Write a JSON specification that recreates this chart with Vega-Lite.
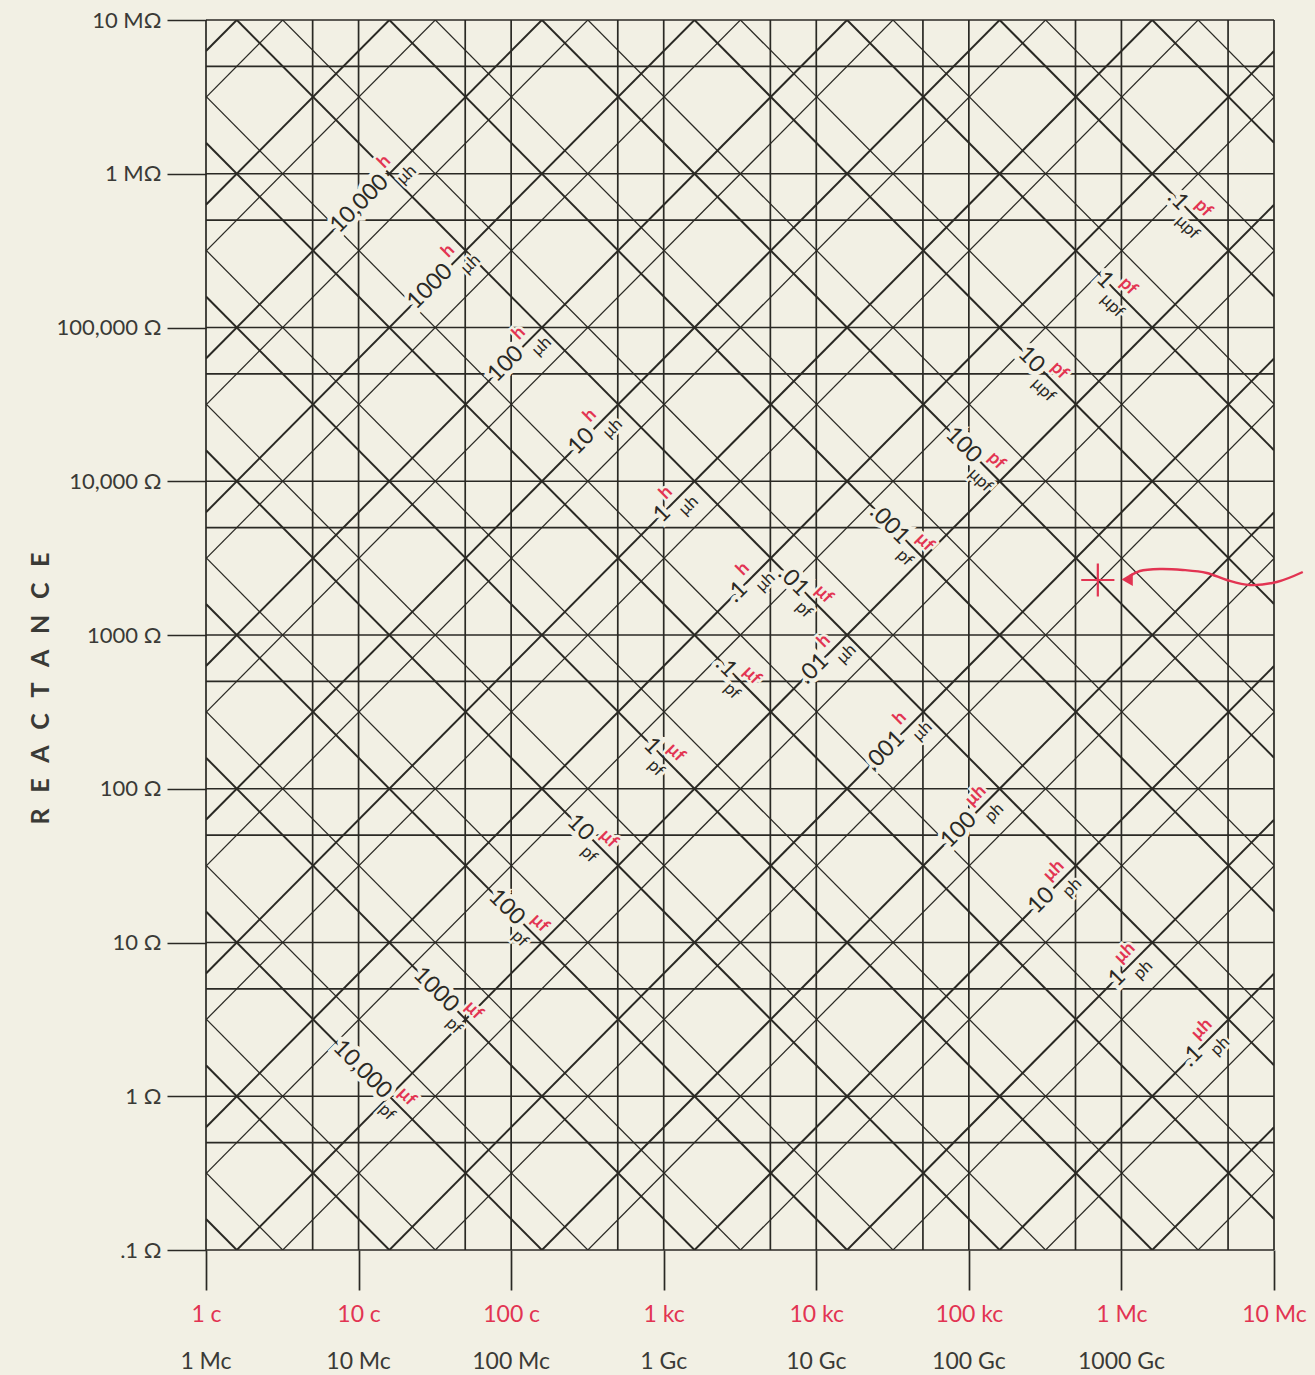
{
  "$schema": "https://vega.github.io/schema/vega-lite/v6.json",
  "width": 1068,
  "height": 1230,
  "autosize": {"type": "none"},
  "padding": {"left": 206, "top": 20, "right": 41, "bottom": 125},
  "background": "#f2f0e4",
  "config": {"view": {"stroke": null}, "font": "Lato"},
  "datasets": {
    "vg": [{"f":1},{"f":5},{"f":10},{"f":50},{"f":100},{"f":500},{"f":1000},{"f":5000},{"f":10000},{"f":50000},{"f":100000},{"f":500000},{"f":1000000},{"f":5000000},{"f":10000000}],
    "hg": [{"X":0.1},{"X":0.5},{"X":1},{"X":5},{"X":10},{"X":50},{"X":100},{"X":500},{"X":1000},{"X":5000},{"X":10000},{"X":50000},{"X":100000},{"X":500000},{"X":1000000},{"X":5000000},{"X":10000000}],
    "diag": [
      {"fam":"L","m":"a","f1":1,"X1":6283200,"f2":10000000,"X2":62832000000000},
      {"fam":"L","m":"b","f1":1,"X1":3141600,"f2":10000000,"X2":31416000000000},
      {"fam":"L","m":"a","f1":1,"X1":628320,"f2":10000000,"X2":6283200000000},
      {"fam":"L","m":"b","f1":1,"X1":314160,"f2":10000000,"X2":3141600000000},
      {"fam":"L","m":"a","f1":1,"X1":62832,"f2":10000000,"X2":628320000000},
      {"fam":"L","m":"b","f1":1,"X1":31416,"f2":10000000,"X2":314160000000},
      {"fam":"L","m":"a","f1":1,"X1":6283.2,"f2":10000000,"X2":62832000000},
      {"fam":"L","m":"b","f1":1,"X1":3141.6,"f2":10000000,"X2":31416000000},
      {"fam":"L","m":"a","f1":1,"X1":628.32,"f2":10000000,"X2":6283200000},
      {"fam":"L","m":"b","f1":1,"X1":314.16,"f2":10000000,"X2":3141600000},
      {"fam":"L","m":"a","f1":1,"X1":62.832,"f2":10000000,"X2":628320000},
      {"fam":"L","m":"b","f1":1,"X1":31.416,"f2":10000000,"X2":314160000},
      {"fam":"L","m":"a","f1":1,"X1":6.2832,"f2":10000000,"X2":62832000},
      {"fam":"L","m":"b","f1":1,"X1":3.1416,"f2":10000000,"X2":31416000},
      {"fam":"L","m":"a","f1":1,"X1":0.62832,"f2":10000000,"X2":6283200},
      {"fam":"L","m":"b","f1":1,"X1":0.31416,"f2":10000000,"X2":3141600},
      {"fam":"L","m":"a","f1":1,"X1":0.062832,"f2":10000000,"X2":628320},
      {"fam":"L","m":"b","f1":1,"X1":0.031416,"f2":10000000,"X2":314160},
      {"fam":"L","m":"a","f1":1,"X1":0.0062832,"f2":10000000,"X2":62832},
      {"fam":"L","m":"b","f1":1,"X1":0.0031416,"f2":10000000,"X2":31416},
      {"fam":"L","m":"a","f1":1,"X1":0.00062832,"f2":10000000,"X2":6283.2},
      {"fam":"L","m":"b","f1":1,"X1":0.00031416,"f2":10000000,"X2":3141.6},
      {"fam":"L","m":"a","f1":1,"X1":0.000062832,"f2":10000000,"X2":628.32},
      {"fam":"L","m":"b","f1":1,"X1":0.000031416,"f2":10000000,"X2":314.16},
      {"fam":"L","m":"a","f1":1,"X1":0.0000062832,"f2":10000000,"X2":62.832},
      {"fam":"L","m":"b","f1":1,"X1":0.0000031416,"f2":10000000,"X2":31.416},
      {"fam":"L","m":"a","f1":1,"X1":6.2832e-7,"f2":10000000,"X2":6.2832},
      {"fam":"L","m":"b","f1":1,"X1":3.1416e-7,"f2":10000000,"X2":3.1416},
      {"fam":"L","m":"a","f1":1,"X1":6.2832e-8,"f2":10000000,"X2":0.62832},
      {"fam":"L","m":"b","f1":1,"X1":3.1416e-8,"f2":10000000,"X2":0.31416},
      {"fam":"C","m":"a","f1":1,"X1":0.159155,"f2":10000000,"X2":1.59155e-8},
      {"fam":"C","m":"b","f1":1,"X1":0.31831,"f2":10000000,"X2":3.1831e-8},
      {"fam":"C","m":"a","f1":1,"X1":1.59155,"f2":10000000,"X2":1.59155e-7},
      {"fam":"C","m":"b","f1":1,"X1":3.1831,"f2":10000000,"X2":3.1831e-7},
      {"fam":"C","m":"a","f1":1,"X1":15.9155,"f2":10000000,"X2":0.00000159155},
      {"fam":"C","m":"b","f1":1,"X1":31.831,"f2":10000000,"X2":0.0000031831},
      {"fam":"C","m":"a","f1":1,"X1":159.155,"f2":10000000,"X2":0.0000159155},
      {"fam":"C","m":"b","f1":1,"X1":318.31,"f2":10000000,"X2":0.000031831},
      {"fam":"C","m":"a","f1":1,"X1":1591.55,"f2":10000000,"X2":0.000159155},
      {"fam":"C","m":"b","f1":1,"X1":3183.1,"f2":10000000,"X2":0.00031831},
      {"fam":"C","m":"a","f1":1,"X1":15915.5,"f2":10000000,"X2":0.00159155},
      {"fam":"C","m":"b","f1":1,"X1":31831,"f2":10000000,"X2":0.0031831},
      {"fam":"C","m":"a","f1":1,"X1":159155,"f2":10000000,"X2":0.0159155},
      {"fam":"C","m":"b","f1":1,"X1":318310,"f2":10000000,"X2":0.031831},
      {"fam":"C","m":"a","f1":1,"X1":1591550,"f2":10000000,"X2":0.159155},
      {"fam":"C","m":"b","f1":1,"X1":3183100,"f2":10000000,"X2":0.31831},
      {"fam":"C","m":"a","f1":1,"X1":15915500,"f2":10000000,"X2":1.59155},
      {"fam":"C","m":"b","f1":1,"X1":31831000,"f2":10000000,"X2":3.1831},
      {"fam":"C","m":"a","f1":1,"X1":159155000,"f2":10000000,"X2":15.9155},
      {"fam":"C","m":"b","f1":1,"X1":318310000,"f2":10000000,"X2":31.831},
      {"fam":"C","m":"a","f1":1,"X1":1591550000,"f2":10000000,"X2":159.155},
      {"fam":"C","m":"b","f1":1,"X1":3183100000,"f2":10000000,"X2":318.31},
      {"fam":"C","m":"a","f1":1,"X1":15915500000,"f2":10000000,"X2":1591.55},
      {"fam":"C","m":"b","f1":1,"X1":31831000000,"f2":10000000,"X2":3183.1},
      {"fam":"C","m":"a","f1":1,"X1":159155000000,"f2":10000000,"X2":15915.5},
      {"fam":"C","m":"b","f1":1,"X1":318310000000,"f2":10000000,"X2":31831},
      {"fam":"C","m":"a","f1":1,"X1":1591550000000,"f2":10000000,"X2":159155},
      {"fam":"C","m":"b","f1":1,"X1":3183100000000,"f2":10000000,"X2":318310},
      {"fam":"C","m":"a","f1":1,"X1":15915500000000,"f2":10000000,"X2":1591550},
      {"fam":"C","m":"b","f1":1,"X1":31831000000000,"f2":10000000,"X2":3183100}
    ],
    "labL": [
      {"f":15.35,"X":964500,"num":"10,000","red":"h","blk":"μh"},
      {"f":40.32,"X":253300,"num":"1000","red":"h","blk":"μh"},
      {"f":117.7,"X":73950,"num":"100","red":"h","blk":"μh"},
      {"f":343.6,"X":21590,"num":"10","red":"h","blk":"μh"},
      {"f":1082,"X":6796,"num":"1","red":"h","blk":"μh"},
      {"f":3456,"X":2172,"num":".1","red":"h","blk":"μh"},
      {"f":11735,"X":737.5,"num":".01","red":"h","blk":"μh"},
      {"f":36940,"X":232.1,"num":".001","red":"h","blk":"μh"},
      {"f":109500,"X":68.79,"num":"100","red":"μh","blk":"ph"},
      {"f":355200,"X":22.32,"num":"10","red":"μh","blk":"ph"},
      {"f":1036900,"X":6.515,"num":"1","red":"μh","blk":"ph"},
      {"f":3314000,"X":2.082,"num":".1","red":"μh","blk":"ph"}
    ],
    "labC": [
      {"f":16.06,"X":0.9909,"num":"10,000","red":"μf","blk":"pf"},
      {"f":44.14,"X":3.606,"num":"1000","red":"μf","blk":"pf"},
      {"f":119.5,"X":13.32,"num":"100","red":"μf","blk":"pf"},
      {"f":338.4,"X":47.02,"num":"10","red":"μf","blk":"pf"},
      {"f":930,"X":171.1,"num":"1","red":"μf","blk":"pf"},
      {"f":2928,"X":543.6,"num":".1","red":"μf","blk":"pf"},
      {"f":8678,"X":1834,"num":".01","red":"μf","blk":"pf"},
      {"f":39830,"X":3996,"num":".001","red":"μf","blk":"pf"},
      {"f":118080,"X":13480,"num":"100","red":"pf","blk":"μpf"},
      {"f":305500,"X":52110,"num":"10","red":"pf","blk":"μpf"},
      {"f":865000,"X":183900,"num":"1","red":"pf","blk":"μpf"},
      {"f":2683000,"X":593400,"num":".1","red":"pf","blk":"μpf"}
    ],
    "bf": [
      {"f":1,"t":"1 Mc"},{"f":10,"t":"10 Mc"},{"f":100,"t":"100 Mc"},{"f":1000,"t":"1 Gc"},{"f":10000,"t":"10 Gc"},{"f":100000,"t":"100 Gc"},{"f":1000000,"t":"1000 Gc"}
    ],
    "pt": [{"f":700300,"X":2279}],
    "wave": [
      {"i":1,"f":15440000,"X":2569},
      {"i":2,"f":10430000,"X":2212},
      {"i":3,"f":6940000,"X":2115},
      {"i":4,"f":4907000,"X":2279},
      {"i":5,"f":3627000,"X":2531},
      {"i":6,"f":2526000,"X":2648},
      {"i":7,"f":1785000,"X":2688},
      {"i":8,"f":1320000,"X":2608},
      {"i":9,"f":1135000,"X":2420}
    ],
    "head": [{"f":1090000,"X":2300}]
  },
  "encoding": {
    "x": {"type": "quantitative", "scale": {"type": "log", "domain": [1, 10000000], "nice": false},
      "axis": {"values": [1,10,100,1000,10000,100000,1000000,10000000],
        "labelExpr": "datum.value < 5 ? '1 c' : datum.value < 50 ? '10 c' : datum.value < 500 ? '100 c' : datum.value < 5000 ? '1 kc' : datum.value < 50000 ? '10 kc' : datum.value < 500000 ? '100 kc' : datum.value < 5000000 ? '1 Mc' : '10 Mc'",
        "domain": false, "grid": false, "tickSize": 40, "tickWidth": 1.7, "tickColor": "#2a2924",
        "labelColor": "#e23452", "labelFontSize": 23, "labelFont": "Lato", "labelPadding": 13,
        "labelFlush": false, "labelOverlap": false, "labelBound": false, "title": null}},
    "y": {"type": "quantitative", "scale": {"type": "log", "domain": [0.1, 10000000], "nice": false},
      "axis": {"values": [0.1,1,10,100,1000,10000,100000,1000000,10000000],
        "labelExpr": "datum.value >= 5000000 ? '10 MΩ' : datum.value >= 500000 ? '1 MΩ' : datum.value >= 50000 ? '100,000 Ω' : datum.value >= 5000 ? '10,000 Ω' : datum.value >= 500 ? '1000 Ω' : datum.value >= 50 ? '100 Ω' : datum.value >= 5 ? '10 Ω' : datum.value >= 0.5 ? '1 Ω' : '.1 Ω'",
        "domain": false, "grid": false, "tickSize": 39, "tickWidth": 1.7, "tickColor": "#2a2924",
        "labelColor": "#3a3a36", "labelFontSize": 22, "labelFont": "Lato", "labelPadding": 6,
        "labelFlush": false, "labelOverlap": false, "labelBound": false, "labelBaseline": "middle",
        "title": "R\u2002\u2009E\u2002\u2009A\u2002\u2009C\u2002\u2009T\u2002\u2009A\u2002\u2009N\u2002\u2009C\u2002\u2009E", "titleFontSize": 25, "titleFontWeight": "bold", "titleColor": "#3a3a36",
        "titleFont": "Lato", "titleX": -166, "titleY": 668, "titleAngle": 270, "titleAlign": "center", "titleBaseline": "middle"}}
  },
  "layer": [
    {
      "data": {"name": "vg"},
      "mark": {"type": "rule", "color": "#2a2924", "strokeWidth": 1.7},
      "encoding": {"x": {"field": "f"}}
    },
    {
      "data": {"name": "hg"},
      "mark": {"type": "rule", "color": "#2a2924", "strokeWidth": 1.7},
      "encoding": {"y": {"field": "X"}}
    },
    {
      "data": {"name": "diag"},
      "mark": {"type": "rule", "color": "#2a2924", "clip": true},
      "encoding": {
        "x": {"field": "f1"},
        "x2": {"field": "f2"},
        "y": {"field": "X1"},
        "y2": {"field": "X2"},
        "strokeWidth": {"field": "m", "type": "nominal", "scale": {"domain": ["a", "b"], "range": [2.0, 1.25]}, "legend": null}
      }
    },
    {
      "data": {"name": "labL"},
      "mark": {"type": "text", "angle": 315, "align": "right", "baseline": "middle", "dx": -3, "fontSize": 23, "fill": "#f2f0e4", "stroke": "#f2f0e4", "strokeWidth": 9},
      "encoding": {"x": {"field": "f"}, "y": {"field": "X"}, "text": {"field": "num"}}
    },
    {
      "data": {"name": "labC"},
      "mark": {"type": "text", "angle": 45, "align": "right", "baseline": "middle", "dx": -3, "fontSize": 23, "fill": "#f2f0e4", "stroke": "#f2f0e4", "strokeWidth": 9},
      "encoding": {"x": {"field": "f"}, "y": {"field": "X"}, "text": {"field": "num"}}
    },
    {
      "data": {"name": "labL"},
      "mark": {"type": "text", "angle": 315, "align": "left", "baseline": "middle", "dx": 3, "dy": -12, "fontSize": 18, "fontWeight": "bold", "fill": "#f2f0e4", "stroke": "#f2f0e4", "strokeWidth": 5},
      "encoding": {"x": {"field": "f"}, "y": {"field": "X"}, "text": {"field": "red"}}
    },
    {
      "data": {"name": "labL"},
      "mark": {"type": "text", "angle": 315, "align": "left", "baseline": "middle", "dx": 5, "dy": 13, "fontSize": 17, "fill": "#f2f0e4", "stroke": "#f2f0e4", "strokeWidth": 5},
      "encoding": {"x": {"field": "f"}, "y": {"field": "X"}, "text": {"field": "blk"}}
    },
    {
      "data": {"name": "labC"},
      "mark": {"type": "text", "angle": 45, "align": "left", "baseline": "middle", "dx": 3, "dy": -12, "fontSize": 18, "fontWeight": "bold", "fill": "#f2f0e4", "stroke": "#f2f0e4", "strokeWidth": 5},
      "encoding": {"x": {"field": "f"}, "y": {"field": "X"}, "text": {"field": "red"}}
    },
    {
      "data": {"name": "labC"},
      "mark": {"type": "text", "angle": 45, "align": "left", "baseline": "middle", "dx": 1, "dy": 13, "fontSize": 17, "fill": "#f2f0e4", "stroke": "#f2f0e4", "strokeWidth": 5},
      "encoding": {"x": {"field": "f"}, "y": {"field": "X"}, "text": {"field": "blk"}}
    },
    {
      "data": {"name": "labL"},
      "mark": {"type": "text", "angle": 315, "align": "right", "baseline": "middle", "dx": -3, "fontSize": 23, "color": "#2a2924"},
      "encoding": {"x": {"field": "f"}, "y": {"field": "X"}, "text": {"field": "num"}}
    },
    {
      "data": {"name": "labC"},
      "mark": {"type": "text", "angle": 45, "align": "right", "baseline": "middle", "dx": -3, "fontSize": 23, "color": "#2a2924"},
      "encoding": {"x": {"field": "f"}, "y": {"field": "X"}, "text": {"field": "num"}}
    },
    {
      "data": {"name": "labL"},
      "mark": {"type": "text", "angle": 315, "align": "left", "baseline": "middle", "dx": 3, "dy": -12, "fontSize": 18, "fontWeight": "bold", "color": "#e23452"},
      "encoding": {"x": {"field": "f"}, "y": {"field": "X"}, "text": {"field": "red"}}
    },
    {
      "data": {"name": "labL"},
      "mark": {"type": "text", "angle": 315, "align": "left", "baseline": "middle", "dx": 5, "dy": 13, "fontSize": 17, "color": "#2a2924"},
      "encoding": {"x": {"field": "f"}, "y": {"field": "X"}, "text": {"field": "blk"}}
    },
    {
      "data": {"name": "labC"},
      "mark": {"type": "text", "angle": 45, "align": "left", "baseline": "middle", "dx": 3, "dy": -12, "fontSize": 18, "fontWeight": "bold", "color": "#e23452"},
      "encoding": {"x": {"field": "f"}, "y": {"field": "X"}, "text": {"field": "red"}}
    },
    {
      "data": {"name": "labC"},
      "mark": {"type": "text", "angle": 45, "align": "left", "baseline": "middle", "dx": 1, "dy": 13, "fontSize": 17, "color": "#2a2924"},
      "encoding": {"x": {"field": "f"}, "y": {"field": "X"}, "text": {"field": "blk"}}
    },
    {
      "data": {"name": "bf"},
      "mark": {"type": "text", "align": "center", "baseline": "middle", "dy": 112, "fontSize": 23, "color": "#3a3a36"},
      "encoding": {"x": {"field": "f"}, "y": {"datum": 0.1}, "text": {"field": "t"}}
    },
    {
      "data": {"name": "wave"},
      "mark": {"type": "line", "color": "#e23452", "strokeWidth": 2.4, "interpolate": "catmull-rom"},
      "encoding": {"x": {"field": "f"}, "y": {"field": "X"}, "order": {"field": "i", "type": "quantitative"}}
    },
    {
      "data": {"name": "head"},
      "mark": {"type": "point", "shape": "triangle-left", "filled": true, "size": 170, "color": "#e23452", "opacity": 1},
      "encoding": {"x": {"field": "f"}, "y": {"field": "X"}}
    },
    {
      "data": {"name": "pt"},
      "mark": {"type": "point", "shape": "M-1,0H1M0,-1V1", "filled": false, "size": 1100, "stroke": "#e23452", "strokeWidth": 2.2, "opacity": 1},
      "encoding": {"x": {"field": "f"}, "y": {"field": "X"}}
    }
  ]
}
